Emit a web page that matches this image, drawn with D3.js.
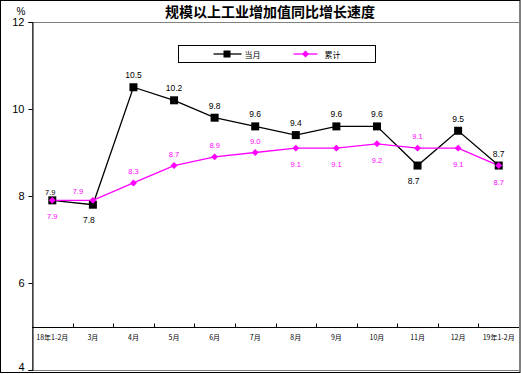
<!DOCTYPE html>
<html>
<head>
<meta charset="utf-8">
<script src="https://cdn.jsdelivr.net/npm/d3@7"></script>
<style>
  body { margin: 0; background: #fff; }
  svg { display: block; }
  text { font-family: "Liberation Sans", Arial, sans-serif; }
  .cjk { font-family: "Noto Sans CJK SC", sans-serif; }
</style>
</head>
<body>
<div id="chart"></div>
<script>
// Data
const categories = ["18年1-2月", "3月", "4月", "5月", "6月", "7月", "8月", "9月", "10月", "11月", "12月", "19年1-2月"];
const monthly = [7.9, 7.8, 10.5, 10.2, 9.8, 9.6, 9.4, 9.6, 9.6, 8.7, 9.5, 8.7];
const cumulative = [7.9, 7.9, 8.3, 8.7, 8.9, 9.0, 9.1, 9.1, 9.2, 9.1, 9.1, 8.7];
// label placement: a = above, b = below, t = tight above, l = above-left
const monthlyLabelPos = ["t", "b", "a", "a", "a", "a", "a", "a", "a", "b", "a", "a"];
const cumulativeLabelPos = ["b", "l", "a", "a", "a", "a", "b", "b", "b", "a", "b", "b"];
const yTicks = [4, 6, 8, 10, 12];

const W = 521, H = 374;
const plot = { left: 32, right: 519, top: 22, bottom: 370 };

const svg = d3.select("#chart")
  .append("svg")
  .attr("width", W)
  .attr("height", H);

// outer border
svg.append("rect")
  .attr("x", 0.5).attr("y", 0.5)
  .attr("width", W - 1.5).attr("height", H - 2)
  .attr("fill", "none").attr("stroke", "#000");

// scales
const x = d3.scaleBand().domain(categories).range([plot.left, plot.right]);
const y = d3.scaleLinear().domain([4, 12]).range([plot.bottom, plot.top]);

// plot area frame (grey)
svg.append("rect")
  .attr("x", plot.left + 0.5).attr("y", plot.top + 0.5)
  .attr("width", plot.right - plot.left).attr("height", plot.bottom - plot.top)
  .attr("fill", "none").attr("stroke", "#808080");

// y axis
const yAxis = svg.append("g")
  .attr("transform", `translate(${plot.left + 0.5},0)`)
  .call(d3.axisLeft(y).tickValues(yTicks).tickSize(4).tickPadding(4).tickFormat(d3.format("d")));
yAxis.select(".domain").attr("stroke", "#000");
yAxis.selectAll("text").attr("font-size", 11).attr("fill", "#000")
  .attr("dy", d => d === 4 ? "0" : "0.32em")
  .style("font-family", "Liberation Sans, Arial, sans-serif");

// x axis crossing at 5
const xAxis = svg.append("g")
  .attr("transform", `translate(0,${Math.round(y(5)) + 0.5})`);
xAxis.append("line")
  .attr("x1", plot.left).attr("x2", plot.right)
  .attr("stroke", "#000");
xAxis.selectAll(".tick")
  .data(categories.slice(1))
  .join("line")
  .attr("x1", d => Math.round(x(d)) + 0.5)
  .attr("x2", d => Math.round(x(d)) + 0.5)
  .attr("y1", 0).attr("y2", -4)
  .attr("stroke", "#000");
xAxis.selectAll(".cat")
  .data(categories)
  .join("text")
  .attr("class", "cjk")
  .attr("x", d => x(d) + x.bandwidth() / 2)
  .attr("y", 12)
  .attr("text-anchor", "middle")
  .attr("font-size", 7)
  .attr("fill", "#000")
  .text(d => d);

// title
svg.append("text")
  .attr("class", "cjk")
  .attr("x", 270).attr("y", 17)
  .attr("text-anchor", "middle")
  .attr("font-size", 14)
  .attr("font-weight", "bold")
  .text("规模以上工业增加值同比增长速度");

svg.append("text")
  .attr("x", 21).attr("y", 15)
  .attr("text-anchor", "middle")
  .attr("font-size", 10)
  .text("%");

// lines
const cx = i => x(categories[i]) + x.bandwidth() / 2;
const line = d3.line().x((d, i) => cx(i)).y(d => y(d));

svg.append("path")
  .datum(monthly)
  .attr("d", line)
  .attr("fill", "none").attr("stroke", "#000").attr("stroke-width", 1.3);

svg.append("path")
  .datum(cumulative)
  .attr("d", line)
  .attr("fill", "none").attr("stroke", "#ff00ff").attr("stroke-width", 1.3);

// markers
svg.selectAll(".sq")
  .data(monthly)
  .join("rect")
  .attr("x", (d, i) => cx(i) - 4)
  .attr("y", d => y(d) - 4)
  .attr("width", 8).attr("height", 8)
  .attr("fill", "#000");

const diamond = d3.symbol().type(d3.symbolSquare).size(24);
svg.selectAll(".dm")
  .data(cumulative)
  .join("path")
  .attr("d", diamond)
  .attr("transform", (d, i) => `translate(${cx(i)},${y(d)}) rotate(45)`)
  .attr("fill", "#ff00ff");

// data labels
const off = {
  a: [0, -9], b: [0, 18], t: [-2, -5], l: [-15, -6]
};
svg.selectAll(".lm")
  .data(monthly)
  .join("text")
  .attr("x", (d, i) => cx(i) + off[monthlyLabelPos[i]][0] - (monthlyLabelPos[i] === "b" ? 4 : 0))
  .attr("y", (d, i) => y(d) + off[monthlyLabelPos[i]][1])
  .attr("text-anchor", "middle")
  .attr("font-size", (d, i) => monthlyLabelPos[i] === "t" ? 7.5 : 8.5)
  .attr("fill", "#000")
  .text(d => d3.format(".1f")(d));

svg.selectAll(".lc")
  .data(cumulative)
  .join("text")
  .attr("x", (d, i) => cx(i) + off[cumulativeLabelPos[i]][0])
  .attr("y", (d, i) => y(d) + (cumulativeLabelPos[i] === "b" ? 19 : off[cumulativeLabelPos[i]][1]))
  .attr("text-anchor", "middle")
  .attr("font-size", 7.5)
  .attr("fill", "#ff00ff")
  .text(d => d3.format(".1f")(d));

// legend
const lg = svg.append("g").attr("transform", "translate(178.5,45.5)");
lg.append("rect").attr("width", 197).attr("height", 17)
  .attr("fill", "#fff").attr("stroke", "#000");
lg.append("line").attr("x1", 35).attr("x2", 63).attr("y1", 8.5).attr("y2", 8.5)
  .attr("stroke", "#000").attr("stroke-width", 1.3);
lg.append("rect").attr("x", 45).attr("y", 5).attr("width", 7).attr("height", 7).attr("fill", "#000");
lg.append("text").attr("class", "cjk").attr("x", 66).attr("y", 12)
  .attr("font-size", 8).text("当月");
lg.append("line").attr("x1", 115).attr("x2", 139).attr("y1", 8.5).attr("y2", 8.5)
  .attr("stroke", "#ff00ff").attr("stroke-width", 1.3);
lg.append("path").attr("d", diamond).attr("transform", "translate(127,8.5) rotate(45)").attr("fill", "#ff00ff");
lg.append("text").attr("class", "cjk").attr("x", 146).attr("y", 12)
  .attr("font-size", 8).text("累计");
</script>
</body>
</html>
